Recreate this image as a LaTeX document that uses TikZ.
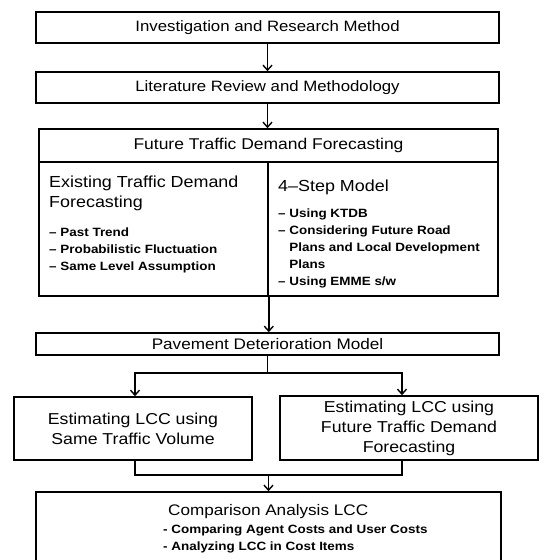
\documentclass[tikz,border=0pt]{standalone}
\usepackage{fontspec}
\setmainfont{Liberation Sans}[FakeStretch=1.12]
\usetikzlibrary{arrows.meta,positioning}

\tikzset{
  box/.style={draw, line width=1.6pt, inner sep=0pt, align=center},
  arr/.style={line width=1.4pt, -{Straight Barb[length=5pt,width=9pt,line width=1.4pt]}},
  link/.style={line width=1.4pt},
  big/.style={font=\fontsize{16}{20}\selectfont, align=left, inner sep=0pt},
  pts/.style={font=\fontsize{12}{17}\bfseries\selectfont, align=left, inner sep=0pt},
}

\begin{document}
\begin{tikzpicture}[x=1pt, y=-1pt, font=\fontsize{15}{17}\selectfont]
\useasboundingbox (0,0) rectangle (540,560);
\clip (0,0) rectangle (540,560);

% main column
\node[box, minimum width=463, minimum height=31] (irm) at (267.5,27.5) {Investigation and Research Method};
\node[box, minimum width=463, minimum height=31] (lrm) at (267.5,87.5) {Literature Review and Methodology};

% forecasting block
\node[box, minimum width=459, minimum height=33, font=\fontsize{15.6}{17}\selectfont] (fh) at (268.5,145.5) {Future Traffic Demand Forecasting};
\node[box, minimum width=229, minimum height=134] (exist) at (153.5,229) {};
\node[box, minimum width=230, minimum height=134] (step) at (383,229) {};

\node[big, anchor=west] (existt) at (49,193) {Existing Traffic Demand\\Forecasting};
\node[pts, anchor=west] (existp) at (49,250) {– Past Trend\\– Probabilistic Fluctuation\\– Same Level Assumption};
\node[big, anchor=west] (stept) at (278,187) {4–Step Model};
\node[pts, anchor=west] (stepp) at (278,248) {– Using KTDB\\– Considering Future Road\\\phantom{– }Plans and Local Development\\\phantom{– }Plans\\– Using EMME s/w};

\node[box, minimum width=463, minimum height=22, font=\fontsize{15.3}{17}\selectfont] (pdm) at (267.5,344) {Pavement Deterioration Model};

% the two estimates
\node[box, minimum width=238, minimum height=63, font=\fontsize{15.8}{20}\selectfont] (same) at (133,428.5) {Estimating LCC using\\Same Traffic Volume};
\node[box, minimum width=258, minimum height=64, font=\fontsize{15.8}{20}\selectfont] (fut) at (409,428) {Estimating LCC using\\Future Traffic Demand\\Forecasting};

\node[box, minimum width=465, minimum height=88] (cmp) at (268.5,536) {};
\node[anchor=west, inner sep=0pt, font=\fontsize{15.3}{20}\selectfont] (cmpt) at (168,512) {Comparison Analysis LCC};
\node[pts, anchor=west] (cmpp) at (163,538.5) {- Comparing Agent Costs and User Costs\\- Analyzing LCC in Cost Items};

\coordinate (split) at (267.5,373);
\coordinate (merge) at (268.5,475);

\draw[arr] (irm) -- (lrm);
\draw[arr] (lrm.south) -- (lrm.south |- fh.north);
\draw[arr] (exist.south east) -- (exist.south east |- pdm.north);
\draw[link] (pdm.south) -- (split);
\draw[arr] (split) -| ([xshift=2pt]same.north);
\draw[arr] (split) -| ([xshift=-7pt]fut.north);
\draw[link] ([xshift=2pt]same.south) |- (merge) -| ([xshift=-7pt]fut.south);
\draw[arr] (merge) -- (merge |- cmp.north);

\end{tikzpicture}
\end{document}
